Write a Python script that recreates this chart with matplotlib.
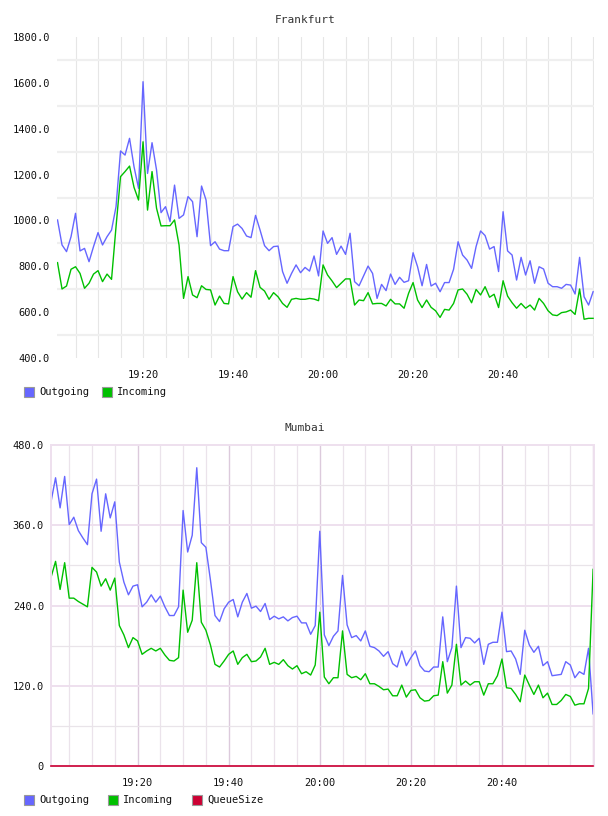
import matplotlib
matplotlib.use('Agg')
import matplotlib.pyplot as plt
import matplotlib.dates as mdates
from matplotlib.ticker import FixedLocator, FuncFormatter
from matplotlib.patches import Rectangle
import pandas as pd

# minute samples 19:01 .. 21:00
times = pd.date_range('2024-01-01 19:01', periods=120, freq='min')

frankfurt_out = [1002, 893, 864, 929, 1031, 867, 878, 820, 886, 947,
                 893, 929, 958, 1060, 1303, 1285, 1358, 1234, 1140, 1605,
                 1205, 1339, 1220, 1034, 1060, 995, 1154, 1009, 1024, 1104,
                 1082, 929, 1150, 1089, 890, 907, 875, 868, 868, 973,
                 984, 965, 932, 925, 1022, 958, 890, 868, 886, 888,
                 777, 726, 769, 806, 772, 795, 779, 845, 758, 954,
                 900, 925, 852, 888, 852, 944, 733, 715, 758, 801,
                 769, 660, 721, 694, 766, 721, 752, 730, 737, 859,
                 798, 715, 808, 714, 726, 689, 729, 729, 787, 907,
                 849, 827, 791, 886, 954, 934, 875, 886, 777, 1038,
                 867, 849, 740, 839, 762, 824, 726, 798, 788, 726,
                 711, 711, 704, 721, 718, 679, 839, 667, 631, 689]
frankfurt_in = [816, 701, 714, 787, 798, 769, 704, 726, 766, 781,
                733, 766, 743, 973, 1191, 1213, 1237, 1144, 1089, 1343,
                1045, 1213, 1053, 976, 977, 977, 1002, 893, 660, 755,
                675, 663, 715, 699, 697, 631, 670, 638, 636, 755,
                689, 657, 685, 665, 781, 708, 692, 656, 685, 667,
                638, 621, 656, 660, 656, 656, 660, 657, 650, 806,
                762, 736, 707, 726, 745, 745, 631, 653, 650, 685,
                636, 638, 638, 627, 656, 636, 636, 617, 682, 729,
                653, 620, 653, 621, 606, 577, 612, 609, 638, 697,
                701, 678, 641, 699, 675, 711, 665, 678, 620, 737,
                670, 641, 617, 638, 617, 631, 609, 660, 638, 606,
                588, 585, 598, 601, 609, 590, 701, 569, 573, 573]

mumbai_out = [395, 431, 386, 433, 361, 372, 352, 341, 331, 407,
              429, 351, 407, 371, 395, 305, 275, 256, 269, 271,
              238, 245, 256, 245, 254, 238, 225, 225, 238, 382,
              320, 345, 446, 334, 327, 278, 225, 216, 235, 245,
              249, 223, 245, 258, 236, 239, 231, 243, 219, 224,
              220, 223, 217, 222, 224, 214, 214, 197, 210, 351,
              196, 180, 194, 202, 285, 211, 192, 195, 187, 202,
              179, 177, 172, 164, 171, 153, 148, 172, 150, 162,
              172, 150, 142, 141, 148, 148, 223, 156, 177, 269,
              177, 192, 191, 184, 191, 152, 182, 185, 185, 230,
              171, 172, 160, 137, 203, 181, 170, 179, 150, 156,
              135, 136, 137, 156, 151, 132, 141, 137, 176, 78]
mumbai_in = [282, 306, 264, 304, 251, 251, 246, 242, 238, 297,
             290, 269, 280, 263, 281, 210, 196, 177, 192, 187,
             167, 172, 176, 172, 176, 166, 158, 157, 162, 263,
             200, 218, 304, 215, 203, 181, 152, 148, 157, 167,
             172, 152, 162, 167, 156, 157, 163, 176, 152, 155,
             152, 159, 150, 145, 150, 138, 141, 136, 151, 230,
             133, 123, 132, 132, 202, 137, 132, 134, 129, 138,
             123, 123, 119, 114, 115, 105, 105, 121, 103, 113,
             114, 102, 97, 98, 105, 106, 156, 109, 121, 182,
             121, 127, 121, 126, 126, 106, 123, 123, 135, 160,
             117, 116, 107, 96, 136, 121, 107, 121, 102, 109,
             92, 92, 98, 107, 104, 91, 93, 93, 116, 294]
mumbai_queue = [0] * 120

BLUE = '#6666ff'
GREEN = '#00c000'
RED = '#cc0033'
FONT = 'DejaVu Sans Mono'
W, H = 608, 816
END = pd.Timestamp('2024-01-01 20:59:30')

fig = plt.figure(figsize=(W / 100, H / 100), dpi=100)


def px_axes(left, top, right, bottom):
    return fig.add_axes([left / W, 1 - bottom / H, (right - left) / W, (bottom - top) / H])


def legend(items, y, xs):
    for (label, color), x in zip(items, xs):
        fig.patches.append(Rectangle((x / W, 1 - (y + 5) / H), 10 / W, 10 / H,
                                     transform=fig.transFigure, facecolor=color,
                                     edgecolor='#999999', linewidth=0.8))
        fig.text((x + 15) / W, 1 - y / H, label, fontsize=7.5, family=FONT,
                 va='center', ha='left', color='#111111')


def time_label(v, pos):
    t = mdates.num2date(v).replace(tzinfo=None)
    # no label on the right edge (21:00)
    if t > END:
        return ''
    return t.strftime('%H:%M')


def style_time_axis(ax):
    ax.xaxis.set_major_locator(mdates.MinuteLocator(byminute=[0, 20, 40]))
    ax.xaxis.set_minor_locator(mdates.MinuteLocator(byminute=range(0, 60, 5)))
    ax.xaxis.set_major_formatter(FuncFormatter(time_label))
    ax.tick_params(which='both', length=0, labelsize=7.5, labelcolor='#111111')
    ax.tick_params(axis='x', pad=9)
    ax.tick_params(axis='y', pad=5)
    for lab in ax.get_xticklabels() + ax.get_yticklabels():
        lab.set_family(FONT)
    ax.set_axisbelow(True)


# ---- Frankfurt
ax1 = px_axes(57, 37, 594, 358)
ax1.plot(times, frankfurt_out, color=BLUE, lw=1.0)
ax1.plot(times, frankfurt_in, color=GREEN, lw=1.0)
ax1.set_ylim(400, 1800)
ax1.set_xlim(pd.Timestamp('2024-01-01 19:00:53'), pd.Timestamp('2024-01-01 21:00:12'))
ax1.set_yticks(range(400, 1801, 200))
ax1.yaxis.set_minor_locator(FixedLocator(range(500, 1800, 200)))
ax1.yaxis.set_major_formatter(FuncFormatter(lambda v, p: f'{v:.1f}'))
style_time_axis(ax1)
ax1.grid(which='both', axis='x', color='#e6e6e6', lw=0.8)
ax1.grid(which='minor', axis='y', color='#efefef', lw=1.6)
for s in ax1.spines.values():
    s.set_visible(False)
fig.text(305 / W, 1 - 20 / H, 'Frankfurt', ha='center', va='center',
         fontsize=8, family=FONT, color='#333333')
legend([('Outgoing', BLUE), ('Incoming', GREEN)], 392, [24, 102])

# ---- Mumbai
ax2 = px_axes(51, 445, 594, 766)
ax2.plot(times, mumbai_out, color=BLUE, lw=1.0)
ax2.plot(times, mumbai_in, color=GREEN, lw=1.0)
ax2.plot(times, mumbai_queue, color=RED, lw=1.2, clip_on=False, zorder=5)
ax2.set_ylim(0, 480)
ax2.set_xlim(pd.Timestamp('2024-01-01 19:01:00'), pd.Timestamp('2024-01-01 21:00:12'))
ax2.set_yticks(range(0, 481, 120))
ax2.yaxis.set_minor_locator(FixedLocator(range(60, 480, 120)))
ax2.yaxis.set_major_formatter(FuncFormatter(lambda v, p: '0' if v == 0 else f'{v:.1f}'))
style_time_axis(ax2)
ax2.grid(which='major', axis='x', color='#dccadc', lw=1.0)
ax2.grid(which='minor', axis='x', color='#ebe3eb', lw=0.9)
ax2.grid(which='major', axis='y', color='#eee0ee', lw=1.4)
ax2.grid(which='minor', axis='y', color='#e9e4e9', lw=0.9)
for s in ax2.spines.values():
    s.set_color('#eee0ee')
    s.set_linewidth(1.4)
fig.text(305 / W, 1 - 428 / H, 'Mumbai', ha='center', va='center',
         fontsize=8, family=FONT, color='#333333')
legend([('Outgoing', BLUE), ('Incoming', GREEN), ('QueueSize', RED)], 800, [24, 108, 192])

fig.savefig('out.png', dpi=100)
